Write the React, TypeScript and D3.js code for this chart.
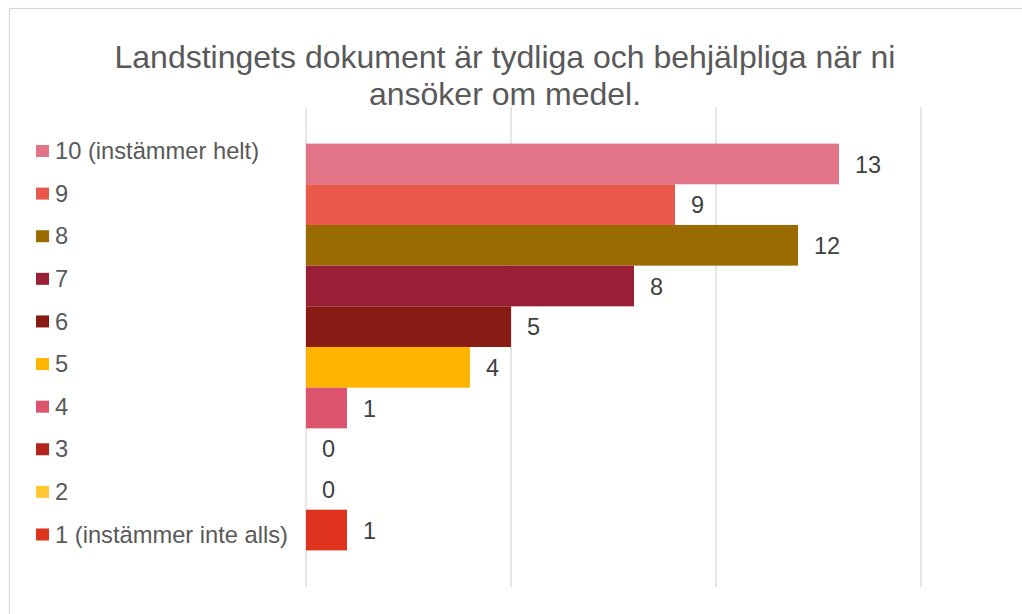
import React from "react";
import * as d3 from "d3";

// Survey answers, top row first
const categories = [
  "10 (instämmer helt)",
  "9",
  "8",
  "7",
  "6",
  "5",
  "4",
  "3",
  "2",
  "1 (instämmer inte alls)",
];
const counts = [13, 9, 12, 8, 5, 4, 1, 0, 0, 1];
const colors = [
  "#E17587",
  "#E8594B",
  "#9A6B00",
  "#9A1F36",
  "#881C14",
  "#FFB500",
  "#DC546D",
  "#B3261E",
  "#FFC832",
  "#E0331E",
];
const xTicks = [0, 5, 10, 15];
const titleLines = [
  "Landstingets dokument är tydliga och behjälpliga när ni",
  "ansöker om medel.",
];

const W = 1022;
const H = 614;
const plot = { left: 306, right: 921, top: 107, bottom: 587 };
const font = "Arial, 'Liberation Sans', sans-serif";

export default function App() {
  const x = d3.scaleLinear().domain([0, 15]).range([plot.left, plot.right]);
  const y = d3
    .scaleBand<string>()
    .domain(categories)
    .range([plot.top, plot.bottom])
    .paddingInner(0)
    .paddingOuter(0.9);

  // legend rows
  const legendY = d3
    .scalePoint<string>()
    .domain(categories)
    .range([151, 534.5]);

  return (
    <svg
      width={W}
      height={H}
      style={{ position: "absolute", left: 0, top: 0, background: "#fff" }}
    >
      <rect
        x={9.5}
        y={8.5}
        width={W + 20}
        height={H + 20}
        fill="#fff"
        stroke="#D9D9D9"
        strokeWidth={1.3}
      />

      {titleLines.map((t, i) => (
        <text
          key={i}
          x={505}
          y={68 + i * 37}
          textAnchor="middle"
          fontFamily={font}
          fontSize={32}
          fill="#595959"
        >
          {t}
        </text>
      ))}

      {xTicks.map((t) => (
        <line
          key={t}
          x1={x(t)}
          x2={x(t)}
          y1={plot.top}
          y2={plot.bottom}
          stroke="#D9D9D9"
          strokeWidth={1.3}
        />
      ))}

      {categories.map((c, i) => (
        <g key={c}>
          {counts[i] > 0 && (
            <rect
              x={x(0)}
              y={y(c)}
              width={x(counts[i]) - x(0)}
              height={y.bandwidth()}
              fill={colors[i]}
            />
          )}
          <text
            x={x(counts[i]) + 16}
            y={(y(c) ?? 0) + y.bandwidth() / 2 + 8.8}
            fontFamily={font}
            fontSize={23.5}
            fill="#404040"
          >
            {counts[i]}
          </text>
        </g>
      ))}

      {categories.map((c, i) => (
        <g key={"lg" + c} transform={`translate(36,${legendY(c)})`}>
          <rect x={0} y={-6} width={13} height={12} fill={colors[i]} />
          <text
            x={19}
            y={8.2}
            fontFamily={font}
            fontSize={23.7}
            fill="#595959"
          >
            {c}
          </text>
        </g>
      ))}
    </svg>
  );
}
